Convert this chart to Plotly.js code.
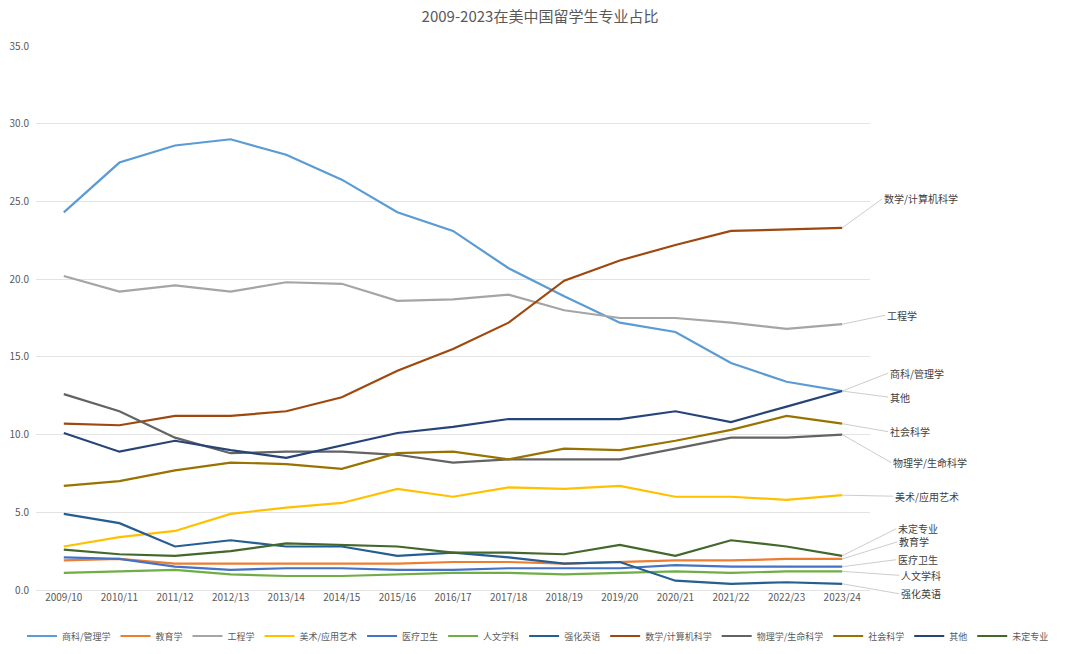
<!DOCTYPE html>
<html>
<head>
<meta charset="utf-8">
<script src="https://cdn.plot.ly/plotly-3.0.1.min.js"></script>
<style>html,body{margin:0;padding:0;background:#fff;}#chart{width:1080px;height:654px;}</style>
</head>
<body>
<div id="chart"></div>
<script>
const years = ["2009/10","2010/11","2011/12","2012/13","2013/14","2014/15","2015/16","2016/17","2017/18","2018/19","2019/20","2020/21","2021/22","2022/23","2023/24"];

const business    = [24.3, 27.5, 28.6, 29.0, 28.0, 26.4, 24.3, 23.1, 20.7, 18.9, 17.2, 16.6, 14.6, 13.4, 12.8];
const education   = [1.9, 2.0, 1.7, 1.7, 1.7, 1.7, 1.7, 1.8, 1.8, 1.7, 1.8, 1.9, 1.9, 2.0, 2.0];
const engineering = [20.2, 19.2, 19.6, 19.2, 19.8, 19.7, 18.6, 18.7, 19.0, 18.0, 17.5, 17.5, 17.2, 16.8, 17.1];
const fineArts    = [2.8, 3.4, 3.8, 4.9, 5.3, 5.6, 6.5, 6.0, 6.6, 6.5, 6.7, 6.0, 6.0, 5.8, 6.1];
const health      = [2.1, 2.0, 1.5, 1.3, 1.4, 1.4, 1.3, 1.3, 1.4, 1.4, 1.4, 1.6, 1.5, 1.5, 1.5];
const humanities  = [1.1, 1.2, 1.3, 1.0, 0.9, 0.9, 1.0, 1.1, 1.1, 1.0, 1.1, 1.2, 1.1, 1.2, 1.2];
const intensiveEn = [4.9, 4.3, 2.8, 3.2, 2.8, 2.8, 2.2, 2.4, 2.1, 1.7, 1.8, 0.6, 0.4, 0.5, 0.4];
const mathCS      = [10.7, 10.6, 11.2, 11.2, 11.5, 12.4, 14.1, 15.5, 17.2, 19.9, 21.2, 22.2, 23.1, 23.2, 23.3];
const physLife    = [12.6, 11.5, 9.8, 8.8, 8.9, 8.9, 8.7, 8.2, 8.4, 8.4, 8.4, 9.1, 9.8, 9.8, 10.0];
const socialSci   = [6.7, 7.0, 7.7, 8.2, 8.1, 7.8, 8.8, 8.9, 8.4, 9.1, 9.0, 9.6, 10.3, 11.2, 10.7];
const other       = [10.1, 8.9, 9.6, 9.0, 8.5, 9.3, 10.1, 10.5, 11.0, 11.0, 11.0, 11.5, 10.8, 11.8, 12.8];
const undecided   = [2.6, 2.3, 2.2, 2.5, 3.0, 2.9, 2.8, 2.4, 2.4, 2.3, 2.9, 2.2, 3.2, 2.8, 2.2];

const names = ["商科/管理学","教育学","工程学","美术/应用艺术","医疗卫生","人文学科","强化英语","数学/计算机科学","物理学/生命科学","社会科学","其他","未定专业"];
const seriesData = [business, education, engineering, fineArts, health, humanities, intensiveEn, mathCS, physLife, socialSci, other, undecided];
const colors = ["#5B9BD5","#ED7D31","#A5A5A5","#FFC000","#4472C4","#70AD47","#255E91","#9E480E","#636363","#997300","#264478","#43682B"];

// label offsets (pixels) for the end-of-line labels
const labelOffsets = {
  "数学/计算机科学": [40, -29],
  "工程学": [43, -9],
  "商科/管理学": [46, -18],
  "其他": [46, 6],
  "社会科学": [46, 8],
  "物理学/生命科学": [49, 28],
  "美术/应用艺术": [51, 1],
  "未定专业": [54, -27],
  "教育学": [55, -17],
  "医疗卫生": [54, -7],
  "人文学科": [57, 4],
  "强化英语": [57, 10]
};

const FONT = '"Noto Sans CJK SC", "Noto Sans", sans-serif';

const traces = names.map((n, i) => ({
  type: 'scatter',
  mode: 'lines',
  name: n,
  x: years,
  y: seriesData[i],
  line: {color: colors[i], width: 2.2},
  hoverinfo: 'x+y+name'
}));

const annotations = names.map((n, i) => ({
  x: years.length - 1,
  y: seriesData[i][seriesData[i].length - 1],
  xref: 'x', yref: 'y',
  text: n,
  showarrow: true,
  arrowhead: 0,
  arrowwidth: 0.8,
  arrowcolor: '#BFBFBF',
  standoff: 0,
  ax: labelOffsets[n][0],
  ay: labelOffsets[n][1],
  xanchor: 'left',
  yanchor: 'middle',
  font: {family: FONT, size: 10, color: '#404040'}
}));

const layout = {
  width: 1080,
  height: 654,
  paper_bgcolor: '#ffffff',
  plot_bgcolor: '#ffffff',
  margin: {l: 36, r: 210, t: 46, b: 64, autoexpand: false},
  title: {
    text: '2009-2023在美中国留学生专业占比',
    x: 0.5, xref: 'container', xanchor: 'center',
    y: 1 - 17/654, yref: 'container', yanchor: 'middle',
    font: {family: FONT, size: 15, color: '#595959'}
  },
  font: {family: FONT, size: 10, color: '#595959'},
  xaxis: {
    type: 'category',
    range: [-0.5, 14.5],
    showgrid: false,
    showline: false,
    zeroline: false,
    ticks: '',
    tickfont: {family: FONT, size: 10, color: '#595959'},
    fixedrange: true
  },
  yaxis: {
    range: [0, 35],
    dtick: 5,
    tick0: 0,
    tickformat: '.1f',
    showgrid: true,
    gridcolor: '#E3E3E3',
    gridwidth: 1,
    zeroline: true,
    zerolinecolor: '#E3E3E3',
    zerolinewidth: 1,
    showline: false,
    ticks: '',
    ticklabelstandoff: 6,
    tickfont: {family: FONT, size: 10, color: '#595959'},
    fixedrange: true
  },
  showlegend: true,
  legend: {
    orientation: 'h',
    xref: 'paper',
    yref: 'paper',
    x: (1054 - 36) / 834,
    xanchor: 'right',
    y: -46 / 544,
    yanchor: 'middle',
    font: {family: FONT, size: 9, color: '#595959'},
    itemwidth: 30,
    traceorder: 'normal'
  },
  annotations: annotations
};

Plotly.newPlot('chart', traces, layout, {displayModeBar: false, staticPlot: true});
</script>
</body>
</html>
